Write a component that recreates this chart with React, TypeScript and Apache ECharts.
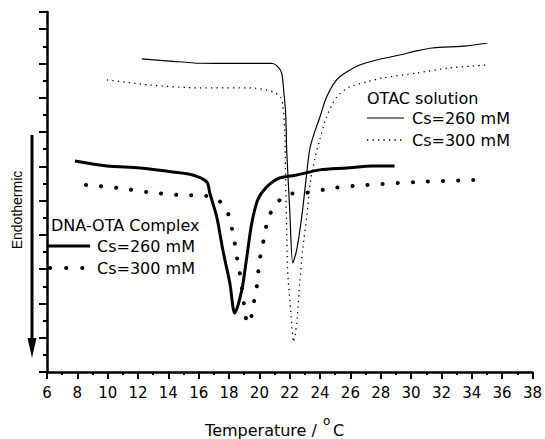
import React, { useEffect, useRef } from "react";
import * as echarts from "echarts";

// Temperature (°C) and heat-flow signal (arbitrary units, downward = endothermic)
const otac260T = [12.25, 14.1, 16.07, 18.5, 20.81, 21.21, 21.47, 21.6, 21.73, 21.8, 22.0, 22.2, 22.46, 22.79, 23.05, 23.31, 23.58, 23.97, 24.43, 25.09, 25.75, 26.61, 27.72, 29.24, 30.36, 31.41, 33.65, 35.03];
const otac260V = [18.26, 18.14, 18.01, 18.0, 18.01, 17.81, 17.44, 16.45, 15.11, 12.95, 9.45, 6.36, 7.12, 9.04, 11.03, 12.95, 13.83, 14.82, 16.04, 17.04, 17.5, 17.91, 18.2, 18.49, 18.73, 18.9, 19.02, 19.19];

const otac300T = [9.95, 12.78, 16.07, 19.5, 20.48, 21.01, 21.4, 21.54, 21.67, 21.73, 21.8, 21.86, 22.06, 22.26, 22.46, 22.66, 22.85, 23.12, 23.38, 23.64, 23.97, 24.43, 25.09, 25.95, 27.07, 28.12, 30.36, 32.53, 35.03];
const otac300V = [17.04, 16.74, 16.57, 16.57, 16.45, 16.28, 16.05, 15.58, 14.12, 11.2, 8.28, 5.95, 3.62, 1.75, 2.86, 5.19, 7.12, 9.04, 11.2, 12.37, 13.54, 14.88, 16.04, 16.63, 16.92, 17.15, 17.44, 17.74, 17.91];

const dna260T = [7.84, 9.95, 12.12, 14.29, 15.61, 16.53, 16.73, 17.19, 17.59, 18.05, 18.38, 18.84, 19.17, 19.5, 19.89, 20.48, 21.34, 22.46, 23.97, 25.75, 27.46, 28.91];
const dna260V = [12.31, 12.02, 11.9, 11.67, 11.49, 11.09, 10.44, 9.04, 7.12, 5.19, 3.44, 4.78, 6.71, 8.69, 10.04, 10.79, 11.32, 11.49, 11.79, 11.9, 12.02, 12.02];

const dna300T = [8.57, 10.61, 12.58, 14.56, 16.53, 17.52, 18.05, 18.24, 18.44, 18.57, 18.77, 18.9, 19.03, 19.23, 19.56, 19.69, 19.89, 19.96, 20.15, 20.35, 20.55, 21.08, 22.0, 22.98, 24.96, 27.07, 30.56, 34.18];
const dna300V = [10.91, 10.74, 10.5, 10.33, 10.27, 9.86, 8.98, 8.11, 7.23, 6.36, 5.48, 4.49, 3.68, 2.8, 3.5, 4.43, 5.31, 6.24, 7.12, 7.99, 8.87, 9.8, 10.38, 10.44, 10.74, 10.91, 11.09, 11.2];

const xMin = 6;
const xMax = 38;
const xStep = 2;

const zip = (t: number[], v: number[]) => t.map((x, i) => [x, v[i]]);

const FONT = "DejaVu Sans";

export default function App() {
  const ref = useRef<HTMLDivElement>(null);

  useEffect(() => {
    if (!ref.current) return;
    const chart = echarts.init(ref.current, null, { renderer: "svg" });

    const txt = (x: number, y: number, text: string, size = 16, extra: any = {}, family = FONT) => ({
      type: "text",
      x,
      y,
      style: {
        text,
        fill: "#000",
        font: `${size}px "${family}"`,
        textAlign: "left",
        textVerticalAlign: "middle",
        ...extra,
      },
    });
    const seg = (x1: number, y1: number, x2: number, y2: number, style: any) => ({
      type: "line",
      shape: { x1, y1, x2, y2 },
      style: { stroke: "#000", ...style },
    });

    chart.setOption({
      animation: false,
      backgroundColor: "#fff",
      grid: { left: 47, right: 12, top: 12, bottom: 67 },
      xAxis: {
        type: "value",
        min: xMin,
        max: xMax,
        interval: xStep,
        axisLine: { onZero: false, lineStyle: { color: "#000", width: 2.5 } },
        axisTick: { length: 7, lineStyle: { color: "#000", width: 2 } },
        minorTick: { show: true, splitNumber: 2, length: 3, lineStyle: { color: "#000", width: 2 } },
        splitLine: { show: false },
        axisLabel: { color: "#000", fontSize: 15, fontFamily: FONT, margin: 13 },
      },
      yAxis: {
        type: "value",
        min: 0,
        max: 21,
        interval: 2,
        axisLine: { show: true, lineStyle: { color: "#000", width: 2.5 } },
        axisTick: { show: true, length: 8, lineStyle: { color: "#000", width: 2 } },
        minorTick: { show: true, splitNumber: 2, length: 4, lineStyle: { color: "#000", width: 2 } },
        splitLine: { show: false },
        axisLabel: { show: false },
      },
      series: [
        {
          name: "OTAC Cs=260 mM",
          type: "line",
          data: zip(otac260T, otac260V),
          showSymbol: false,
          smooth: 0.25,
          lineStyle: { color: "#000", width: 1.2 },
        },
        {
          name: "OTAC Cs=300 mM",
          type: "line",
          data: zip(otac300T, otac300V),
          showSymbol: false,
          smooth: 0.25,
          lineStyle: { color: "#000", width: 1.3, type: [1.3, 4.2] },
        },
        {
          name: "DNA-OTA Cs=260 mM",
          type: "line",
          data: zip(dna260T, dna260V),
          showSymbol: false,
          smooth: 0.3,
          lineStyle: { color: "#000", width: 3 },
        },
        {
          name: "DNA-OTA Cs=300 mM",
          type: "line",
          data: zip(dna300T, dna300V),
          showSymbol: false,
          smooth: 0.3,
          lineStyle: { color: "#000", width: 4, type: [0.1, 15], cap: "round" },
        },
      ],
      graphic: [
        // direction arrow on the left
        seg(32, 135, 32, 342, { lineWidth: 3 }),
        {
          type: "polygon",
          shape: { points: [[27.5, 338], [36.5, 338], [32, 358]] },
          style: { fill: "#000" },
        },
        {
          ...txt(17, 210, "Endothermic", 14, { textAlign: "center" }, "Liberation Sans"),
          rotation: Math.PI / 2,
        },
        // OTAC legend
        txt(367, 98, "OTAC solution"),
        seg(367, 118, 404, 118, { lineWidth: 1.2 }),
        txt(412, 118, "Cs=260 mM"),
        seg(367, 140, 404, 140, { lineWidth: 1.3, lineDash: [1.3, 4.2] }),
        txt(412, 140, "Cs=300 mM"),
        // DNA-OTA legend
        txt(51, 225, "DNA-OTA Complex"),
        seg(48, 246, 90, 246, { lineWidth: 3 }),
        txt(97, 246, "Cs=260 mM"),
        seg(50, 268, 84, 268, { lineWidth: 4, lineDash: [0.1, 16], lineCap: "round" }),
        txt(97, 268, "Cs=300 mM"),
        // x-axis title with superscript degree sign
        txt(322, 430, "Temperature / ", 16, { textAlign: "right" }),
        txt(323, 421, "o", 12),
        txt(333, 430, "C", 16),
      ],
    });

    return () => chart.dispose();
  }, []);

  return (
    <div
      ref={ref}
      style={{ position: "fixed", left: 0, top: 0, width: 545, height: 439, background: "#fff" }}
    />
  );
}
